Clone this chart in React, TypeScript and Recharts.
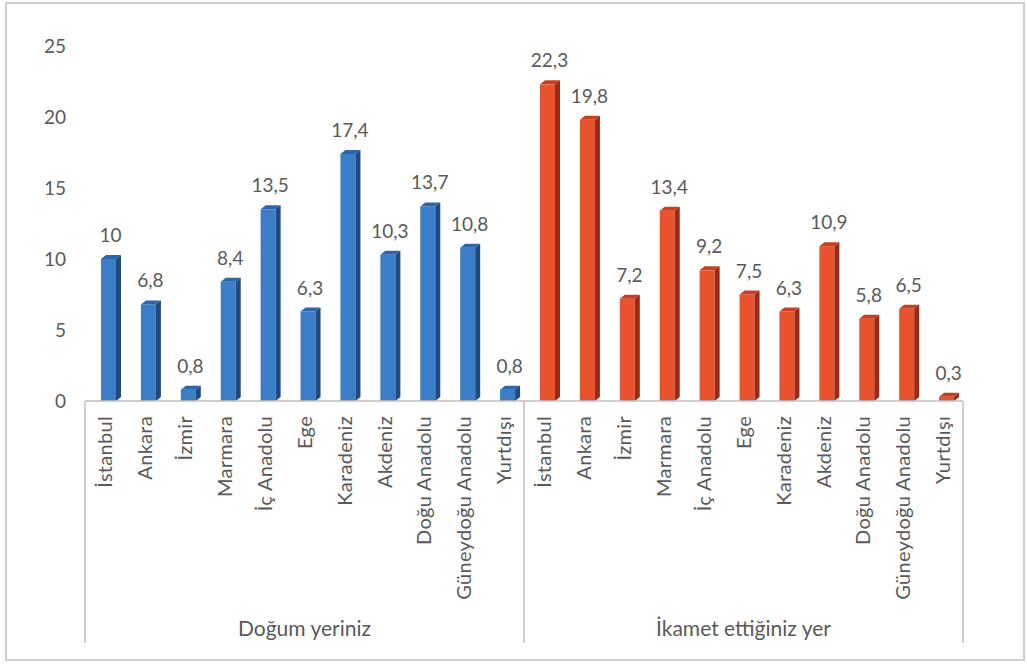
import React from "react";
import { BarChart, Bar, XAxis, YAxis, LabelList } from "recharts";

const categories = ["İstanbul", "Ankara", "İzmir", "Marmara", "İç Anadolu", "Ege", "Karadeniz", "Akdeniz", "Doğu Anadolu", "Güneydoğu Anadolu", "Yurtdışı"];
const dogumValues = [10, 6.8, 0.8, 8.4, 13.5, 6.3, 17.4, 10.3, 13.7, 10.8, 0.8];
const ikametValues = [22.3, 19.8, 7.2, 13.4, 9.2, 7.5, 6.3, 10.9, 5.8, 6.5, 0.3];
const groups = ["Doğum yeriniz", "İkamet ettiğiniz yer"];
const yTicks = [0, 5, 10, 15, 20, 25];

const data = [
  ...categories.map((c, i) => ({ key: `0-${i}`, label: c, group: 0, value: dogumValues[i] })),
  ...categories.map((c, i) => ({ key: `1-${i}`, label: c, group: 1, value: ikametValues[i] })),
];

const W = 1027;
const H = 664;
const ML = 25;
const YW = 60;
const MR = 64;
const MT = 46;
const XH = 263;
const N = data.length;
const BAND = (W - ML - YW - MR) / N;
const FONT = "Lato, 'Noto Sans', sans-serif";
const TXT = "#595959";

const palette = [
  { front: "#3B7DC6", top: "#2E66A8", side: "#1E4A80" },
  { front: "#E8532E", top: "#C63F22", side: "#9C2914" },
];

const Bar3D = (props: any) => {
  const { x, y, width, height, payload } = props;
  if (height == null || width == null) return null;
  const c = palette[payload.group];
  const fx = x + 4;
  const dx = 5;
  const dy = 4;
  return (
    <g>
      <rect x={fx} y={y} width={width} height={height} fill={c.front} />
      <polygon points={`${fx},${y} ${fx + dx},${y - dy} ${fx + width + dx},${y - dy} ${fx + width},${y}`} fill={c.top} />
      <polygon points={`${fx + width},${y} ${fx + width + dx},${y - dy} ${fx + width + dx},${y + height - dy} ${fx + width},${y + height}`} fill={c.side} />
    </g>
  );
};

const ValueLabel = (props: any) => {
  const { x, y, width, value } = props;
  return (
    <text x={x + 4 + width / 2 + 2} y={y - 17} textAnchor="middle" fontSize={19} fontFamily={FONT} fill={TXT}>
      {String(value).replace(".", ",")}
    </text>
  );
};

const CatTick = (props: any) => {
  const { x, y, payload, index } = props;
  const row = data[index];
  const half = BAND / 2;
  const bottom = y + 242;
  const parts: any[] = [];
  parts.push(
    <text key="t" transform={`translate(${x},${y + 15}) rotate(-90)`} textAnchor="end" dy="0.36em" fontSize={20} letterSpacing={0.3} fontFamily={FONT} fill={TXT}>
      {row ? row.label : payload.value}
    </text>
  );
  if (index === 0 || index === 11) {
    parts.push(<line key="l" x1={x - half} y1={y} x2={x - half} y2={bottom} stroke="#BFBFBF" strokeWidth={1.5} />);
  }
  if (index === 21) {
    parts.push(<line key="r" x1={x + half} y1={y} x2={x + half} y2={bottom} stroke="#BFBFBF" strokeWidth={1.5} />);
  }
  if (index === 5 || index === 16) {
    parts.push(
      <text key="g" x={x} y={y + 227} textAnchor="middle" dy="0.36em" fontSize={21} fontFamily={FONT} fill={TXT}>
        {groups[index === 5 ? 0 : 1]}
      </text>
    );
  }
  return <g>{parts}</g>;
};

export default function App() {
  return (
    <div style={{ position: "absolute", left: 0, top: 0, width: W, height: H, background: "#fff" }}>
      <div style={{ position: "absolute", left: 0, top: 0 }}>
        <BarChart width={W} height={H} data={data} margin={{ top: MT, right: MR, left: ML, bottom: 0 }} barSize={15}>
          <XAxis
            dataKey="key"
            interval={0}
            height={XH}
            tickLine={false}
            tickSize={0}
            tickMargin={0}
            axisLine={{ stroke: "#BFBFBF", strokeWidth: 1.5 }}
            tick={<CatTick />}
          />
          <YAxis
            width={YW}
            domain={[0, 25]}
            ticks={yTicks}
            axisLine={false}
            tickLine={false}
            tickMargin={13}
            tick={{ fontSize: 19, fontFamily: FONT, fill: TXT }}
          />
          <Bar dataKey="value" isAnimationActive={false} shape={<Bar3D />}>
            <LabelList dataKey="value" content={<ValueLabel />} />
          </Bar>
        </BarChart>
      </div>
      <div
        style={{
          position: "absolute",
          left: 5,
          top: 2,
          width: 1020,
          height: 659,
          boxSizing: "border-box",
          border: "2px solid #CFCFCF",
          pointerEvents: "none",
        }}
      />
    </div>
  );
}
